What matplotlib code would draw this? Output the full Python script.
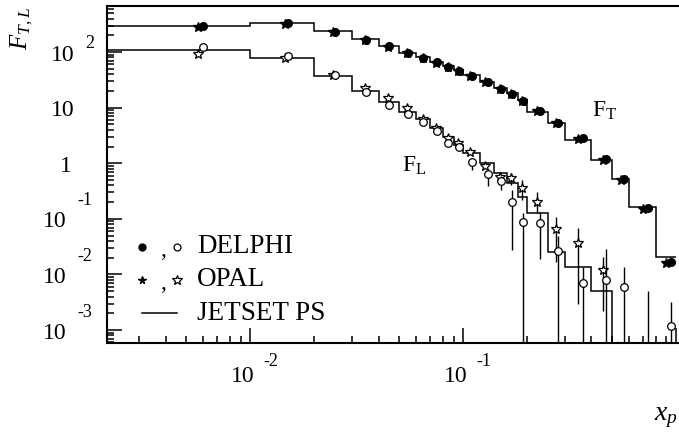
import matplotlib.pyplot as plt
from matplotlib.ticker import NullFormatter, LogLocator
from matplotlib.transforms import blended_transform_factory, offset_copy

plt.rcParams["font.family"] = "Liberation Serif"
plt.rcParams["mathtext.fontset"] = "custom"
plt.rcParams["mathtext.rm"] = "Liberation Serif"
plt.rcParams["mathtext.it"] = "Liberation Serif:italic"

# JETSET PS prediction, binned in x_p
edges = [0.001, 0.01, 0.02, 0.03, 0.04, 0.05, 0.06, 0.07, 0.08, 0.09, 0.10,
         0.12, 0.14, 0.16, 0.18, 0.20, 0.25, 0.30, 0.40, 0.50, 0.60, 0.80, 1.00]
ft_jetset = [295, 330, 239, 172, 129, 97.5, 80.5, 67, 56, 47.6, 38.7,
             29.4, 22.3, 18.2, 13.7, 8.5, 5.2, 2.62, 1.15, 0.52, 0.162, 0.0209]
fl_jetset = [109, 79, 37, 20, 12.5, 8.4, 6.2, 4.4, 3.0, 2.13, 1.51,
             1.0, 0.66, 0.437, 0.25, 0.129, 0.0257, 0.0138, 0.00505, 1e-6, 1e-6, 1e-6]

# DELPHI
delphi_x = [0.006, 0.015, 0.025, 0.035, 0.045, 0.055, 0.065, 0.075, 0.085, 0.095, 0.11,
            0.13, 0.15, 0.17, 0.19, 0.23, 0.28, 0.365, 0.47, 0.57, 0.735, 0.95]
delphi_ft = [290, 335, 228, 168, 127, 96, 79, 66, 55, 46, 37.5,
             29, 22, 17.5, 13.2, 8.8, 5.37, 2.81, 1.18, 0.515, 0.155, 0.017]
delphi_fl = [125, 85, 38, 19.4, 11.2, 7.7, 5.6, 3.85, 2.29, 1.94, 1.07,
             0.64, 0.487, 0.204, 0.087, 0.083, 0.0268, 0.0071, 0.008, 0.0059, 3e-4, 0.00119]
delphi_fl_lo = [125, 85, 38, 19.4, 11.2, 7.7, 5.6, 3.85, 2.29, 1.94, 0.75,
                0.39, 0.33, 0.028, 1e-6, 0.0188, 1e-6, 1e-6, 1e-6, 1e-6, 1e-6, 1e-6]
delphi_fl_hi = [125, 85, 38, 19.4, 11.2, 7.7, 5.6, 3.85, 2.29, 1.94, 1.2,
                0.8, 0.6, 0.33, 0.13, 0.134, 0.05, 0.0138, 0.0284, 0.0138, 0.0051, 0.00324]

# OPAL
opal_ft_x = [0.0057, 0.0145, 0.0245, 0.0345, 0.0445, 0.0545, 0.0645, 0.0745, 0.0845, 0.0945, 0.108,
             0.127, 0.148, 0.168, 0.188, 0.222, 0.272, 0.347, 0.454, 0.55, 0.70, 0.90]
opal_ft = [285, 325, 232, 166, 125, 95, 78, 65, 54, 45.5, 37,
           28.5, 21.5, 17.3, 13.0, 8.6, 5.2, 2.7, 1.14, 0.50, 0.15, 0.016]
opal_fl_x = [0.0057, 0.0145, 0.0245, 0.0345, 0.0445, 0.0545, 0.0645, 0.0745, 0.0845, 0.0945,
             0.108, 0.127, 0.148, 0.168, 0.188, 0.222, 0.272, 0.347, 0.454]
opal_fl = [91, 77, 38, 22.3, 14.8, 9.75, 6.2, 4.26, 2.82, 2.29,
           1.62, 0.89, 0.575, 0.537, 0.355, 0.204, 0.065, 0.0364, 0.012]
opal_fl_lo = [91, 77, 38, 22.3, 14.8, 9.75, 6.2, 4.26, 2.82, 2.29,
              1.62, 0.89, 0.45, 0.4, 0.22, 0.13, 0.017, 0.003, 0.0022]
opal_fl_hi = [91, 77, 38, 22.3, 14.8, 9.75, 6.2, 4.26, 2.82, 2.29,
              1.62, 0.89, 0.7, 0.68, 0.5, 0.3, 0.11, 0.068, 0.021]

# tick labels: (value, mantissa, exponent)
y_ticklabels = [(100, "10", "2"), (10, "10", ""), (1, "1", ""),
                (0.1, "10", "-1"), (0.01, "10", "-2"), (0.001, "10", "-3")]
x_ticklabels = [(0.01, "10", "-2"), (0.1, "10", "-1")]


def yerr(y, lo, hi):
    return [[v - l for v, l in zip(y, lo)], [h - v for v, h in zip(y, hi)]]


fig = plt.figure(figsize=(6.79, 4.34), dpi=100)
ax = fig.add_axes([107 / 679, 91 / 434, 578 / 679, 337 / 434])
ax.set_xscale("log")
ax.set_yscale("log")
ax.set_xlim(0.00212, 1.1)
ax.set_ylim(5.86e-4, 675)

ax.stairs(ft_jetset, edges, baseline=None, color="k", lw=1.1, zorder=2)
ax.stairs(fl_jetset, edges, baseline=None, color="k", lw=1.1, zorder=2)

# F_T: filled symbols
ax.plot(opal_ft_x, opal_ft, ls="none", marker="*", ms=7, color="k", zorder=3)
ax.plot(delphi_x, delphi_ft, ls="none", marker="o", ms=5.5, color="k", zorder=4)

# F_L: open symbols
ax.errorbar(opal_fl_x, opal_fl, yerr=yerr(opal_fl, opal_fl_lo, opal_fl_hi), fmt="*",
            ms=7.5, mfc="white", mec="k", mew=0.9, ecolor="k", elinewidth=1, capsize=0, zorder=3)
ax.errorbar(delphi_x, delphi_fl, yerr=yerr(delphi_fl, delphi_fl_lo, delphi_fl_hi), fmt="o",
            ms=5.5, mfc="white", mec="k", mew=0.9, ecolor="k", elinewidth=1, capsize=0, zorder=4)

ax.text(0.402, 6.8, r"$\mathrm{F}_{\mathrm{T}}$", fontsize=17, va="baseline")
ax.text(0.0515, 0.70, r"$\mathrm{F}_{\mathrm{L}}$", fontsize=17, va="baseline")

# axes styling
for side in ["left", "bottom", "top"]:
    ax.spines[side].set_linewidth(1.5)
ax.spines["right"].set_visible(False)
ax.xaxis.set_major_locator(LogLocator(base=10, numticks=10))
ax.xaxis.set_minor_locator(LogLocator(base=10, subs=range(2, 10), numticks=10))
ax.yaxis.set_minor_locator(LogLocator(base=10, subs=range(2, 10), numticks=12))
for axis in [ax.xaxis, ax.yaxis]:
    axis.set_major_formatter(NullFormatter())
    axis.set_minor_formatter(NullFormatter())
ax.tick_params(which="both", direction="in", top=False, right=False, width=1.1)
ax.tick_params(which="major", length=11)
ax.tick_params(which="minor", length=5)

ytrans = blended_transform_factory(ax.transAxes, ax.transData)
for val, base, exp in y_ticklabels:
    dx = -40 if exp.startswith("-") else -32
    if base == "1":
        dx = -35
    ax.text(0, val, base, fontsize=17, ha="right", va="center",
            transform=offset_copy(ytrans, fig=fig, x=dx, y=-3, units="dots"))
    if exp:
        rise = 18 if exp.startswith("-") else 9
        ax.text(0, val, exp, fontsize=13, ha="left", va="center",
                transform=offset_copy(ytrans, fig=fig, x=dx + 10, y=rise, units="dots"))

xtrans = blended_transform_factory(ax.transData, ax.transAxes)
for val, base, exp in x_ticklabels:
    ax.text(val, 0, base, fontsize=17, ha="right", va="center",
            transform=offset_copy(xtrans, fig=fig, x=4, y=-34, units="dots"))
    ax.text(val, 0, exp, fontsize=13, ha="left", va="center",
            transform=offset_copy(xtrans, fig=fig, x=13, y=-19, units="dots"))

# legend
rows = [(0.285, "o", "o", 5, 5, "DELPHI"), (0.187, "*", "*", 5.5, 7, "OPAL")]
for y, m1, m2, s1, s2, name in rows:
    ax.plot([0.0606], [y], marker=m1, ms=s1, color="k", transform=ax.transAxes, clip_on=False)
    ax.text(0.097, y - 0.01, ",", fontsize=17, ha="center", va="center", transform=ax.transAxes)
    ax.plot([0.121], [y], marker=m2, ms=s2, mfc="white", mec="k", mew=0.9,
            transform=ax.transAxes, clip_on=False)
    ax.text(0.156, y, name, fontsize=19.5, ha="left", va="center", transform=ax.transAxes)
ax.plot([0.0606, 0.121], [0.089, 0.089], color="k", lw=1.1, transform=ax.transAxes)
ax.text(0.156, 0.089, "JETSET PS", fontsize=19.5, ha="left", va="center", transform=ax.transAxes)

fig.text(654 / 679, 14 / 434, r"$x_p$", fontsize=20, ha="left", va="baseline")
fig.text(22 / 679, 1 - 29 / 434, r"$F_{T,L}$", fontsize=18, rotation=90, ha="center", va="center")

fig.savefig("out.png", dpi=100)
